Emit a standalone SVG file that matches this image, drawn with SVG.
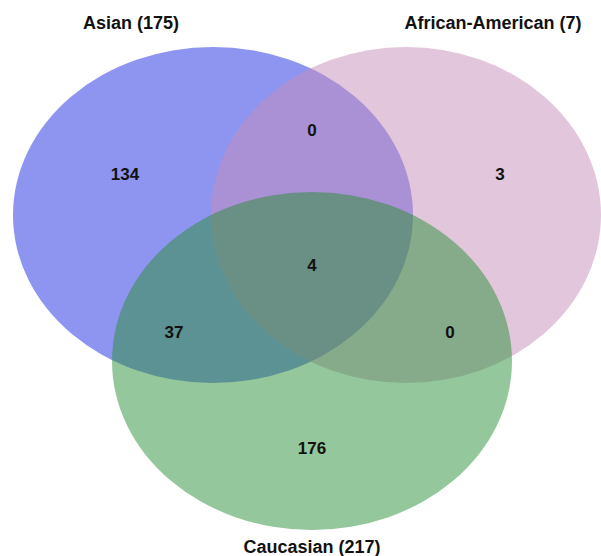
<svg xmlns="http://www.w3.org/2000/svg" width="601" height="556" viewBox="0 0 601 556">
<style>
.set{fill-opacity:0.5;stroke:none}
.lbl{font-family:"Liberation Sans",Arial,sans-serif;font-weight:bold;font-size:18px;fill:#111;text-anchor:middle}
.num{font-family:"Liberation Sans",Arial,sans-serif;font-weight:bold;font-size:17px;fill:#111;text-anchor:middle}
</style>
<rect width="601" height="556" fill="#fff"/>
<g id="asian"><ellipse class="set" cx="213" cy="215" rx="200" ry="168" fill="#1D2BE1"/></g>
<g id="african-american"><ellipse class="set" cx="406" cy="215" rx="195" ry="168" fill="#C58DB9"/></g>
<g id="caucasian"><ellipse class="set" cx="312" cy="361" rx="200" ry="169" fill="#298F37"/></g>
<g id="connectors"></g>
<g id="labels">
<text class="lbl" x="131" y="29">Asian (175)</text>
<text class="lbl" x="493" y="29">African-American (7)</text>
<text class="lbl" x="312" y="553">Caucasian (217)</text>
</g>
<g id="counts">
<text class="num" x="125" y="180">134</text>
<text class="num" x="312" y="136">0</text>
<text class="num" x="500" y="180">3</text>
<text class="num" x="312" y="271">4</text>
<text class="num" x="174" y="338">37</text>
<text class="num" x="450" y="338">0</text>
<text class="num" x="312" y="454">176</text>
</g>
</svg>
